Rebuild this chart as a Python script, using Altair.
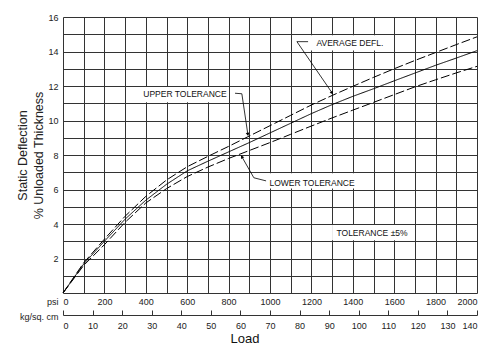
import altair as alt
import pandas as pd

# Load in psi and deflection (% of unloaded thickness)
psi = [0, 100, 200, 300, 400, 500, 600, 700, 800, 900, 1000, 1100, 1200, 1300, 1400,
       1500, 1600, 1700, 1800, 1900, 2000]
avg = [0, 1.68, 3.0, 4.28, 5.38, 6.3, 7.08, 7.64, 8.18, 8.72, 9.28, 9.84, 10.4, 10.92, 11.4,
       11.84, 12.3, 12.75, 13.2, 13.62, 14.05]
upper = [0, 1.75, 3.12, 4.45, 5.6, 6.55, 7.32, 7.92, 8.5, 9.1, 9.7, 10.3, 10.9, 11.45, 11.98,
         12.5, 13.0, 13.48, 13.94, 14.4, 14.85]
lower = [0, 1.6, 2.8, 4.1, 5.22, 6.05, 6.75, 7.3, 7.8, 8.26, 8.72, 9.2, 9.68, 10.15, 10.6,
         11.05, 11.5, 11.95, 12.36, 12.76, 13.14]

psi_grid = list(range(0, 2001, 100))
psi_labels = list(range(0, 2001, 200))
kg_ticks = list(range(0, 141, 10))
y_grid = list(range(0, 17))
y_labels = list(range(2, 17, 2))

# annotations
ann_text = ["AVERAGE DEFL.", "UPPER TOLERANCE", "LOWER TOLERANCE", "TOLERANCE \u00b15%"]
ann_x = [1386, 589, 1203, 1493]
ann_y = [14.52, 11.55, 6.37, 3.47]
box_x1 = [1180, 380, 990, 1300]
box_x2 = [1590, 800, 1420, 1690]
box_y1 = [14.06, 11.06, 6.06, 3.06]
box_y2 = [14.94, 11.94, 6.94, 3.94]

lead_id = ["a", "a", "a", "u", "u", "u", "l", "l", "l"]
lead_x = [1184, 1130, 1300, 831, 864, 893, 981, 922, 864]
lead_y = [14.57, 14.57, 11.6, 11.58, 11.55, 9.2, 6.5, 6.68, 7.9]
lead_order = [0, 1, 2, 0, 1, 2, 0, 1, 2]
arrow_x = [1300, 893, 864]
arrow_y = [11.6, 9.2, 7.9]
arrow_angle = [145, 171, 329]

W, H = 414, 276
FONT = "Liberation Sans"

curves = pd.DataFrame({
    "psi": psi * 3,
    "v": avg + upper + lower,
    "series": ["avg"] * len(psi) + ["upper"] * len(psi) + ["lower"] * len(psi),
})
boxes = pd.DataFrame({"x1": box_x1, "x2": box_x2, "y1": box_y1, "y2": box_y2})
texts = pd.DataFrame({"x": ann_x, "y": ann_y, "t": ann_text})
leaders = pd.DataFrame({"id": lead_id, "x": lead_x, "y": lead_y, "o": lead_order})
arrows = pd.DataFrame({"x": arrow_x, "y": arrow_y, "a": arrow_angle})
kg = pd.DataFrame({"kg": kg_ticks})

xscale = alt.Scale(domain=[0, 2000], nice=False)
yscale = alt.Scale(domain=[0, 16], nice=False)

lbl_psi = "indexof(" + str(psi_labels) + ", datum.value) >= 0 ? datum.label : ''"
lbl_y = "indexof(" + str(y_labels) + ", datum.value) >= 0 ? datum.label : ''"

xaxis = alt.Axis(values=psi_grid, labelExpr=lbl_psi, format="d", ticks=False, domain=False,
                 labelPadding=4, labelFontSize=9, labelColor="#222",
                 grid=True, gridColor="#333", gridWidth=1, gridOpacity=1,
                 title="psi", titleX=-5, titleY=8.5, titleAlign="right",
                 titleBaseline="middle", titleAngle=0, titleFontSize=9,
                 titleFontWeight="normal", titleColor="#222")
yaxis = alt.Axis(values=y_grid, labelExpr=lbl_y, format="d", ticks=False, domain=False,
                 labelPadding=5, labelFontSize=9, labelColor="#222",
                 grid=True, gridColor="#333", gridWidth=1, gridOpacity=1,
                 title=["Static Deflection", "% Unloaded Thickness"],
                 titleFontSize=12.5, titleFontWeight="normal", titlePadding=2,
                 titleLineHeight=16, titleColor="#222")


def X(f):
    return alt.X(f, type="quantitative", scale=xscale, axis=xaxis)


def Y(f):
    return alt.Y(f, type="quantitative", scale=yscale, axis=yaxis)


lines = alt.Chart(curves).mark_line(color="black", strokeWidth=1).encode(
    x=X("psi"), y=Y("v"),
    detail="series:N",
    strokeDash=alt.StrokeDash("series:N", scale=alt.Scale(
        domain=["avg", "upper", "lower"], range=[[1, 0], [9, 3], [9, 3]]), legend=None),
)
rects = alt.Chart(boxes).mark_rect(color="white").encode(
    x=X("x1"), x2="x2", y=Y("y1"), y2="y2")
labels = alt.Chart(texts).mark_text(fontSize=8.5, font=FONT, color="#111").encode(
    x=X("x"), y=Y("y"), text="t:N")
leads = alt.Chart(leaders).mark_line(color="black", strokeWidth=0.8).encode(
    x=X("x"), y=Y("y"), detail="id:N", order="o:Q")
heads = alt.Chart(arrows).mark_point(shape="triangle-up", filled=True, color="black",
                                     size=14, opacity=1).encode(
    x=X("x"), y=Y("y"), angle=alt.Angle("a:Q", scale=None))

main = alt.layer(lines, rects, labels, leads, heads)

kg_layer = alt.Chart(kg).mark_point(opacity=0).encode(
    x=alt.X("kg:Q", scale=alt.Scale(domain=[0, 140], nice=False),
            axis=alt.Axis(orient="top", offset=-(H + 22), values=kg_ticks, format="d",
                          grid=False, domain=True, domainColor="#333", ticks=True,
                          tickColor="#333", tickSize=5, labelPadding=-15,
                          labelBaseline="middle", labelFontSize=9, labelColor="#222",
                          title="kg/sq. cm", titleX=-5, titleY=1, titleAlign="right",
                          titleBaseline="middle", titleAngle=0, titleFontSize=9,
                          titleFontWeight="normal", titleColor="#222")),
    y=alt.value(0),
)

load = alt.Chart(pd.DataFrame({"t": ["Load"]})).mark_text(
    fontSize=13, font=FONT, color="#111").encode(
    x=alt.value(182), y=alt.value(H + 46), text="t:N")

chart = alt.layer(main, kg_layer, load).resolve_scale(x="independent").properties(
    width=W, height=H,
    autosize=alt.AutoSizeParams(type="none"),
    padding={"left": 55, "top": 9, "right": 8, "bottom": 56},
).configure(font=FONT).configure_view(stroke=None)

chart.save("out.html", embed_options={"renderer": "svg", "actions": False})
